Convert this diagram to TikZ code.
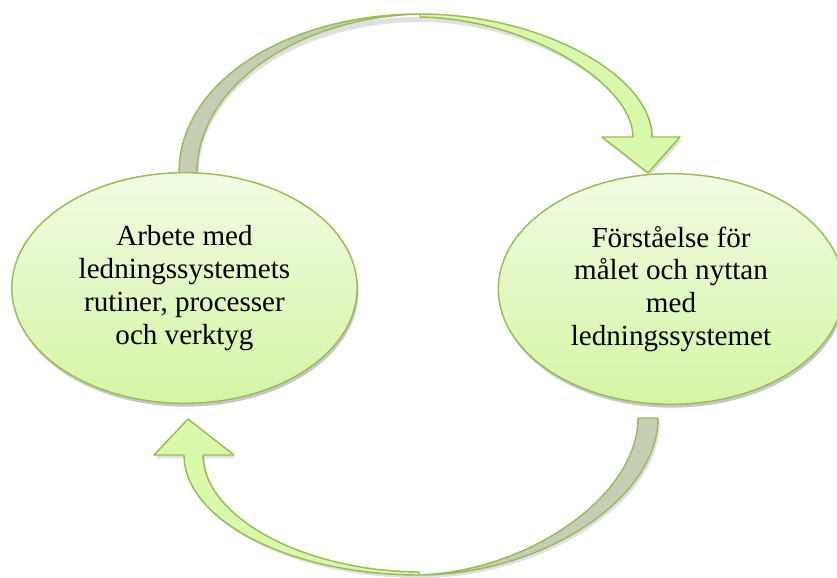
\documentclass[tikz,border=0pt]{standalone}
\usepackage{fontspec}
\setmainfont{Liberation Serif}
\usetikzlibrary{shapes.geometric, shadows}

\definecolor{leaf}{HTML}{9BBB59}
\definecolor{leafTop}{HTML}{F0FCE3}
\definecolor{leafBot}{HTML}{D5F5A3}
\definecolor{arrowFront}{HTML}{D9F9AA}
\definecolor{arrowBack}{HTML}{C5CDB3}

\begin{document}
\begin{tikzpicture}[x=0.75pt, y=-0.75pt,
  phase/.style={ellipse, draw=leaf, line width=1.1pt, top color=leafTop, bottom color=leafBot, minimum width=259pt, minimum height=173pt, inner sep=0pt, align=center, font=\fontsize{21.8}{24.6}\selectfont, drop shadow={opacity=0.22, shadow xshift=1pt, shadow yshift=-2.5pt, fill=black}},
  front/.style={draw=leaf, line width=1.1pt, fill=arrowFront, line join=round},
  back/.style={draw=leaf, line width=1.1pt, fill=arrowBack, line join=round},
  shade/.style={fill=black, opacity=0.12}]

  \useasboundingbox (0,0) rectangle (837,577);

  % upper arrow, from the left phase to the right one
  \fill [shade] (181,173) .. controls (181,82) and (291,17) .. (420,17) .. controls (541,17) and (654,78) .. (654,140)
    -- (682,140) -- (650,176) -- (604,140) -- (635,140) .. controls (635,88) and (531,22) .. (420,22)
    .. controls (302,22) and (199,88) .. (199,173) -- cycle;
  \draw [back] (179,173) .. controls (179,80) and (290,14) .. (420,14)
    .. controls (300,17) and (197,85) .. (197,173) -- cycle;
  \draw [front] (420,14) .. controls (540,14) and (652,75) .. (652,137)
    -- (680,137) -- (648,173) -- (602,137) -- (633,137)
    .. controls (633,85) and (530,19) .. (420,17) -- cycle;

  % lower arrow, back from the right phase to the left one
  \fill [shade] (660,421) .. controls (660,503) and (542,578) .. (421,578) .. controls (292,578) and (186,523) .. (186,458)
    -- (156,458) -- (190,422) -- (236,458) -- (205,458) .. controls (205,518) and (302,574) .. (421,574)
    .. controls (532,574) and (640,498) .. (640,421) -- cycle;
  \draw [back] (658,418) .. controls (658,500) and (540,575) .. (419,575)
    .. controls (530,571) and (638,495) .. (638,418) -- cycle;
  \draw [front] (419,575) .. controls (290,575) and (184,520) .. (184,455)
    -- (154,455) -- (188,419) -- (234,455) -- (203,455)
    .. controls (203,515) and (300,571) .. (419,572) -- cycle;

  \node [phase] (arbete) at (184.5,288) {Arbete med\\ledningssystemets\\rutiner, processer\\och verktyg};
  \node [phase] (forstaelse) at (671,289) {Förståelse för\\målet och nyttan\\med\\ledningssystemet};
\end{tikzpicture}
\end{document}
